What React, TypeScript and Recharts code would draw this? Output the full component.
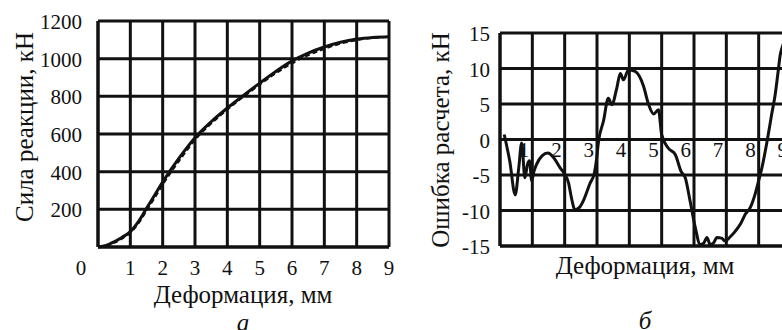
import React from 'react';
import { LineChart, Line, XAxis, YAxis, CartesianGrid } from 'recharts';

const FONT = "'Liberation Serif', 'Times New Roman', serif";
const INK = '#111';

// ---- Chart (а): reaction force vs deformation ----
const deformA = [0, 0.25, 0.5, 0.75, 1, 1.25, 1.5, 1.75, 2, 2.5, 3, 3.5, 4, 4.5, 5, 5.5, 6, 6.5, 7, 7.5, 8, 8.5, 9];
const forceSolid = [0, 8, 28, 52, 82, 135, 205, 275, 345, 470, 580, 665, 738, 805, 870, 932, 988, 1030, 1062, 1087, 1104, 1113, 1117];
const forceDashed = [0, 5, 22, 45, 75, 125, 192, 260, 330, 455, 568, 655, 730, 798, 862, 922, 975, 1018, 1052, 1080, 1098, 1110, 1115];
const xTicksA = [0, 1, 2, 3, 4, 5, 6, 7, 8, 9];
const yTicksA = [0, 200, 400, 600, 800, 1000, 1200];

// ---- Chart (б): calculation error vs deformation ----
const deformB = [0.13, 0.3, 0.47, 0.58, 0.67, 0.77, 0.85, 0.91, 0.98, 1.05, 1.13, 1.3, 1.48, 1.65, 1.86, 2.0, 2.12, 2.2, 2.32, 2.45, 2.58, 2.79, 2.91, 2.98, 3.05, 3.2, 3.35, 3.46, 3.61, 3.72, 3.82, 3.97, 4.18, 4.44, 4.59, 4.75, 4.9, 5.0, 5.2, 5.42, 5.6, 5.73, 5.88, 6.04, 6.19, 6.3, 6.4, 6.5, 6.6, 6.71, 6.85, 6.97, 7.1, 7.28, 7.45, 7.59, 7.75, 7.89, 8.0, 8.1, 8.27, 8.4, 8.51, 8.6, 8.67, 8.73, 8.8];
const errorB = [0.7, -3, -7.8, -4, -0.5, -5.4, -3.5, -3.0, -5.8, -4.5, -3.5, -2.3, -1.9, -2.5, -4.0, -4.9, -6.1, -8.0, -9.9, -9.6, -8.6, -6.1, -4.9, -3.0, -0.2, 2.6, 5.8, 4.9, 7.2, 9.3, 8.4, 9.8, 9.6, 7.5, 5.0, 3.6, 4.2, 0.7, -1.2, -2.1, -4.5, -5.4, -8.7, -12.4, -14.8, -14.6, -13.8, -14.8, -14.6, -13.8, -13.9, -14.3, -13.8, -12.9, -11.8, -10.5, -9.5, -7.7, -5.8, -4.0, 0, 3.5, 6.3, 9.5, 12.0, 13.0, 14.0];
const xTicksB = [0, 1, 2, 3, 4, 5, 6, 7, 8, 9];
const yTicksB = [-15, -10, -5, 0, 5, 10, 15];

const xTitle = 'Деформация, мм';
const yTitleA = 'Сила реакции, кН';
const yTitleB = 'Ошибка расчета, кН';
const panelA = 'а';
const panelB = 'б';

const dataA = deformA.map((x, i) => ({ x, solid: forceSolid[i], dashed: forceDashed[i] }));
const dataB = deformB.map((x, i) => ({ x, err: errorB[i] }));

const TICK_FS = 21;
const TITLE_FS = 25;
const PLOT_H_B = 213;

const txt = (fs: number, extra: any = {}) => ({ fontFamily: FONT, fontSize: fs, fill: INK, ...extra });

const XTickA = (p: any) => (
  <text x={p.payload.value === 0 ? p.x - 17 : p.x} y={p.y} textAnchor="middle" style={txt(TICK_FS)}>
    {p.payload.value}
  </text>
);

const YTickA = (p: any) =>
  p.payload.value === 0 ? (
    <g />
  ) : (
    <text x={p.x} y={p.y + 8} textAnchor="end" style={txt(TICK_FS)}>
      {p.payload.value}
    </text>
  );

const XTickB = (p: any) =>
  p.payload.value === 0 ? (
    <g />
  ) : (
    <text x={p.x - 3} y={p.y - PLOT_H_B / 2 + 17} textAnchor="end" style={txt(TICK_FS)}>
      {p.payload.value}
    </text>
  );

const YTickB = (p: any) => (
  <text x={p.x} y={p.y + 8} textAnchor="end" style={txt(TICK_FS)}>
    {p.payload.value}
  </text>
);

export default function App() {
  return (
    <div
      style={{
        position: 'fixed',
        left: 0,
        top: 0,
        width: 782,
        height: 330,
        overflow: 'hidden',
        background: '#fff',
      }}
    >
      <div style={{ position: 'absolute', left: 0, top: 0 }}>
        <LineChart width={400} height={330} data={dataA} margin={{ top: 21, right: 11, bottom: 0, left: 0 }}>
          <CartesianGrid stroke={INK} strokeWidth={3} />
          <XAxis
            dataKey="x"
            type="number"
            domain={[0, 9]}
            ticks={xTicksA}
            interval={0}
            height={83}
            tickSize={0}
            tickMargin={28}
            tickLine={false}
            axisLine={{ stroke: INK, strokeWidth: 3 }}
            tick={<XTickA />}
          />
          <YAxis
            type="number"
            domain={[0, 1200]}
            ticks={yTicksA}
            interval={0}
            width={98}
            tickSize={0}
            tickMargin={16}
            tickLine={false}
            axisLine={{ stroke: INK, strokeWidth: 3 }}
            tick={<YTickA />}
          />
          <Line
            type="monotone"
            dataKey="dashed"
            stroke={INK}
            strokeWidth={2}
            strokeDasharray="5 3"
            dot={false}
            isAnimationActive={false}
          />
          <Line type="monotone" dataKey="solid" stroke={INK} strokeWidth={3} dot={false} isAnimationActive={false} />
        </LineChart>
      </div>
      <div style={{ position: 'absolute', left: 390, top: 0 }}>
        <LineChart width={410} height={330} data={dataB} margin={{ top: 33, right: 9, bottom: 0, left: 0 }}>
          <CartesianGrid stroke={INK} strokeWidth={3} />
          <XAxis
            dataKey="x"
            type="number"
            domain={[0, 9]}
            ticks={xTicksB}
            interval={0}
            height={84}
            tickSize={0}
            tickMargin={0}
            tickLine={false}
            axisLine={{ stroke: INK, strokeWidth: 3 }}
            tick={<XTickB />}
          />
          <YAxis
            type="number"
            domain={[-15, 15]}
            ticks={yTicksB}
            interval={0}
            width={110}
            tickSize={0}
            tickMargin={10}
            tickLine={false}
            axisLine={{ stroke: INK, strokeWidth: 3 }}
            tick={<YTickB />}
          />
          <Line type="monotone" dataKey="err" stroke={INK} strokeWidth={3} dot={false} isAnimationActive={false} />
        </LineChart>
      </div>
      <svg width={782} height={330} style={{ position: 'absolute', left: 0, top: 0, pointerEvents: 'none' }}>
        <text x={243} y={303} textAnchor="middle" style={txt(TITLE_FS)}>{xTitle}</text>
        <text x={645} y={274} textAnchor="middle" style={txt(TITLE_FS)}>{xTitle}</text>
        <text
          x={24}
          y={127}
          textAnchor="middle"
          dominantBaseline="central"
          transform="rotate(-90 24 127)"
          style={txt(TITLE_FS)}
        >
          {yTitleA}
        </text>
        <text
          x={440}
          y={140}
          textAnchor="middle"
          dominantBaseline="central"
          transform="rotate(-90 440 140)"
          style={txt(TITLE_FS)}
        >
          {yTitleB}
        </text>
        <text x={243} y={331} textAnchor="middle" style={txt(TITLE_FS, { fontStyle: 'italic' })}>{panelA}</text>
        <text x={645} y={329} textAnchor="middle" style={txt(TITLE_FS, { fontStyle: 'italic' })}>{panelB}</text>
      </svg>
    </div>
  );
}
